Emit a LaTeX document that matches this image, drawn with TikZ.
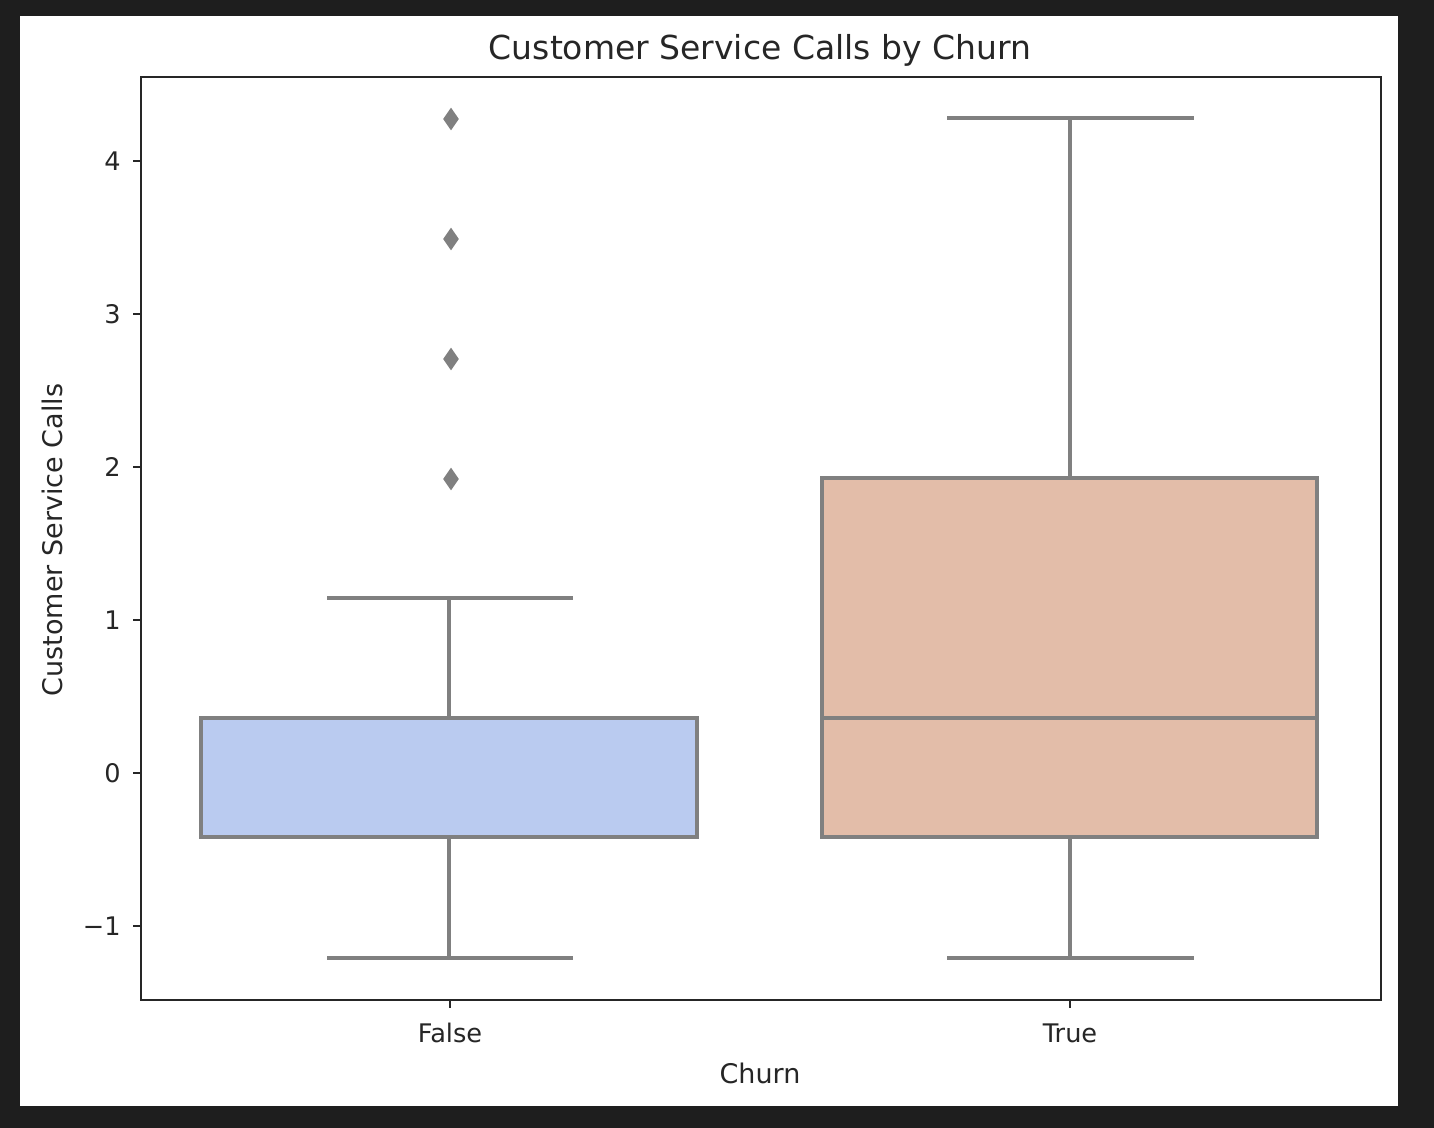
\documentclass[tikz,border=0pt]{standalone}
\usepackage{fontspec}
\setmainfont{DejaVu Sans}
\usetikzlibrary{shapes.geometric}
\definecolor{boxgray}{RGB}{128,128,128}
\definecolor{falsefill}{RGB}{186,203,240}
\definecolor{truefill}{RGB}{227,189,169}
\definecolor{framebg}{RGB}{30,30,30}
\definecolor{spine}{RGB}{38,38,38}

\begin{document}
\begin{tikzpicture}
    [x=0.5pt,y=-0.5pt,
     boxline/.style={draw=boxgray,line width=1.7pt},
     flier/.style={diamond,fill=boxgray,inner sep=0pt,minimum width=8pt,minimum height=11.5pt},
     ticklab/.style={font=\fontsize{12.8}{15}\selectfont,text=spine,inner sep=0pt},
     axlab/.style={font=\fontsize{13.5}{16}\selectfont,text=spine,inner sep=0pt}]
    \useasboundingbox (0,0) rectangle (1434,1128);
    \fill[framebg] (0,0) rectangle (1434,1128);
    \fill[white] (20,16) rectangle (1398,1106);
    % False
    \draw[boxline] (449,718) -- (449,598);
    \draw[boxline] (327,598) -- (573,598);
    \draw[boxline] (449,837) -- (449,958);
    \draw[boxline] (327,958) -- (573,958);
    \draw[boxline,fill=falsefill] (201,718) rectangle (697,837);
    \draw[boxline] (201,718) -- (697,718);
    \foreach \yy [count=\i] in {119,239,359,479}
      \node[flier] (out\i) at (451,\yy) {};
    % True
    \draw[boxline] (1070,478) -- (1070,118);
    \draw[boxline] (947,118) -- (1194,118);
    \draw[boxline] (1070,837) -- (1070,958);
    \draw[boxline] (947,958) -- (1194,958);
    \draw[boxline,fill=truefill] (822,478) rectangle (1317,837);
    \draw[boxline] (822,718) -- (1317,718);
    % axes
    \draw[spine,line width=1.1pt] (141,77) rectangle (1381,1000);
    \foreach \lab/\yy [count=\i] in {4/161,3/314,2/467,1/620,0/773,−1/926}
      {\draw[spine,line width=1pt] (133,\yy) -- (141,\yy);
       \node[ticklab,anchor=east] (ylab\i) at (121,\yy) {\lab};}
    \foreach \lab/\xx [count=\i] in {False/450,True/1070}
      {\draw[spine,line width=1pt] (\xx,1000) -- (\xx,1008);
       \node[ticklab,anchor=base] (xlab\i) at (\xx,1042) {\lab};}
    \node[axlab,anchor=base] (xtitle) at (760,1083) {Churn};
    \node[axlab,anchor=base,rotate=90] (ytitle) at (62,540) {Customer Service Calls};
    \node[font=\fontsize{16.5}{20}\selectfont,text=spine,inner sep=0pt,anchor=base] (title) at (760,60) {Customer Service Calls by Churn};
\end{tikzpicture}
\end{document}
